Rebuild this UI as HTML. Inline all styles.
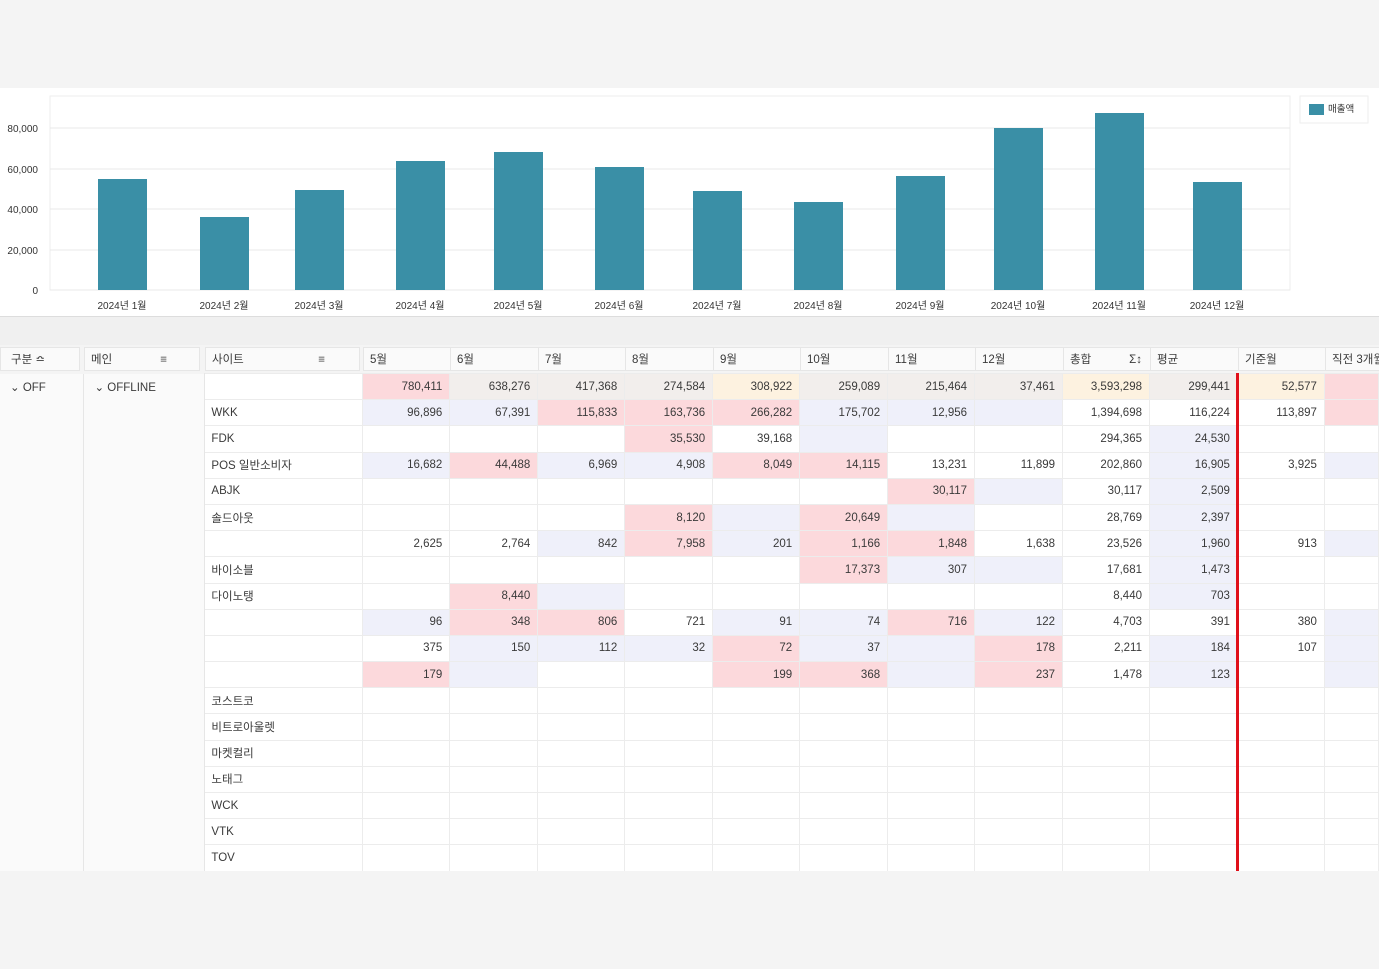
<!DOCTYPE html>
<html><head><meta charset="utf-8"><style>
body{margin:0;width:1379px;height:969px;background:#f4f4f4;position:relative;overflow:hidden;font-family:"Liberation Sans","Noto Sans CJK KR",sans-serif;color:#3a3a3a}
.chart{position:absolute;left:0;top:88px;width:1379px;height:228px;background:#fff;border-bottom:1px solid #ddd}
.band{position:absolute;left:0;top:317px;width:1379px;height:28px;background:#f0f0f0}
table{position:absolute;left:0;top:373px;border-collapse:collapse;table-layout:fixed;font-size:11.5px}
td{height:25.2px;padding:0 7px 0 0;text-align:right;border:1px solid #ececec;white-space:nowrap;overflow:hidden;background:#fff}
td.n{text-align:left;padding-left:6px;background:#fff}
td.side{background:#fafafa;vertical-align:top;text-align:left;padding:6px 0 0 10px;border:none;border-right:1px solid #e6e6e6}
.p{background:#fcd9dc}.b{background:#eff0fa}.g{background:#f2eeec}.y{background:#fdf2e0}.w{background:#fff}
.hd{position:absolute;top:347px;height:24px;background:#fafafa;border:1px solid #e6e6e6;font-size:11.5px;line-height:24px;padding-left:6px;box-sizing:border-box}
</style></head><body>
<div class="chart"></div>
<svg style="position:absolute;left:0;top:0" width="1379" height="320" font-family="Liberation Sans, Noto Sans CJK KR, sans-serif" font-size="10" fill="#333">
<rect x="50" y="96" width="1240" height="194" fill="#fff" stroke="#eee"/>
<g stroke="#e8e8e8"><line x1="50" x2="1290" y1="128" y2="128"/><line x1="50" x2="1290" y1="169" y2="169"/><line x1="50" x2="1290" y1="209" y2="209"/><line x1="50" x2="1290" y1="250" y2="250"/><line x1="50" x2="1290" y1="290" y2="290"/></g>
<g text-anchor="end"><text x="38" y="132">80,000</text><text x="38" y="173">60,000</text><text x="38" y="213">40,000</text><text x="38" y="254">20,000</text><text x="38" y="294">0</text></g>
<g fill="#3a8fa6">
<rect x="98" y="179" width="49" height="111"/><rect x="200" y="217" width="49" height="73"/><rect x="295" y="190" width="49" height="100"/><rect x="396" y="161" width="49" height="129"/><rect x="494" y="152" width="49" height="138"/><rect x="595" y="167" width="49" height="123"/><rect x="693" y="191" width="49" height="99"/><rect x="794" y="202" width="49" height="88"/><rect x="896" y="176" width="49" height="114"/><rect x="994" y="128" width="49" height="162"/><rect x="1095" y="113" width="49" height="177"/><rect x="1193" y="182" width="49" height="108"/></g>
<g text-anchor="middle"><text x="122" y="309">2024년 1월</text><text x="224" y="309">2024년 2월</text><text x="319" y="309">2024년 3월</text><text x="420" y="309">2024년 4월</text><text x="518" y="309">2024년 5월</text><text x="619" y="309">2024년 6월</text><text x="717" y="309">2024년 7월</text><text x="818" y="309">2024년 8월</text><text x="920" y="309">2024년 9월</text><text x="1018" y="309">2024년 10월</text><text x="1119" y="309">2024년 11월</text><text x="1217" y="309">2024년 12월</text></g>
<rect x="1300" y="96" width="68" height="27" fill="#fff" stroke="#eee"/><rect x="1309" y="104" width="15" height="11" fill="#3a8fa6"/><text x="1328" y="112" font-size="9.5">매출액</text>
</svg>
<div class="band"></div>
<div class="hd" style="left:0;width:80px;padding-left:10px">구분 ≏</div>
<div class="hd" style="left:84px;width:116px">메인<span style="position:absolute;right:32px">≡</span></div>
<div class="hd" style="left:205px;width:155px">사이트<span style="position:absolute;right:34px">≡</span></div>
<div class="hd" style="left:363px;width:88px">5월</div><div class="hd" style="left:450px;width:89px">6월</div><div class="hd" style="left:538px;width:88px">7월</div><div class="hd" style="left:625px;width:89px">8월</div><div class="hd" style="left:713px;width:88px">9월</div><div class="hd" style="left:800px;width:89px">10월</div><div class="hd" style="left:888px;width:88px">11월</div><div class="hd" style="left:975px;width:89px">12월</div><div class="hd" style="left:1063px;width:88px">총합<span style="position:absolute;right:8px">Σ↕</span></div><div class="hd" style="left:1150px;width:89px">평균</div><div class="hd" style="left:1238px;width:88px">기준월</div><div class="hd" style="left:1325px;width:60px">직전 3개월</div>
<table>
<colgroup><col style="width:84px"><col style="width:121px"><col style="width:158px"><col style="width:87px"><col style="width:88px"><col style="width:87px"><col style="width:88px"><col style="width:87px"><col style="width:88px"><col style="width:87px"><col style="width:88px"><col style="width:87px"><col style="width:88px"><col style="width:87px"><col style="width:54px"></colgroup>
<tr><td class="side" rowspan="19">⌄ OFF</td><td class="side" rowspan="19">⌄ OFFLINE</td><td class="n"></td><td class="p">780,411</td><td class="g">638,276</td><td class="g">417,368</td><td class="g">274,584</td><td class="y">308,922</td><td class="g">259,089</td><td class="g">215,464</td><td class="g">37,461</td><td class="y">3,593,298</td><td class="g">299,441</td><td class="y">52,577</td><td class="p"></td></tr>
<tr><td class="n">WKK</td><td class="b">96,896</td><td class="b">67,391</td><td class="p">115,833</td><td class="p">163,736</td><td class="p">266,282</td><td class="b">175,702</td><td class="b">12,956</td><td class="b"></td><td class="w">1,394,698</td><td class="w">116,224</td><td class="w">113,897</td><td class="p"></td></tr>
<tr><td class="n">FDK</td><td></td><td></td><td></td><td class="p">35,530</td><td>39,168</td><td class="b"></td><td></td><td></td><td>294,365</td><td class="b">24,530</td><td></td><td></td></tr>
<tr><td class="n">POS 일반소비자</td><td class="b">16,682</td><td class="p">44,488</td><td class="b">6,969</td><td class="b">4,908</td><td class="p">8,049</td><td class="p">14,115</td><td>13,231</td><td>11,899</td><td>202,860</td><td class="b">16,905</td><td>3,925</td><td class="b"></td></tr>
<tr><td class="n">ABJK</td><td></td><td></td><td></td><td></td><td></td><td></td><td class="p">30,117</td><td class="b"></td><td>30,117</td><td class="b">2,509</td><td></td><td></td></tr>
<tr><td class="n">솔드아웃</td><td></td><td></td><td></td><td class="p">8,120</td><td class="b"></td><td class="p">20,649</td><td class="b"></td><td></td><td>28,769</td><td class="b">2,397</td><td></td><td></td></tr>
<tr><td class="n"></td><td>2,625</td><td>2,764</td><td class="b">842</td><td class="p">7,958</td><td class="b">201</td><td class="p">1,166</td><td class="p">1,848</td><td>1,638</td><td>23,526</td><td class="b">1,960</td><td>913</td><td class="b"></td></tr>
<tr><td class="n">바이소블</td><td></td><td></td><td></td><td></td><td></td><td class="p">17,373</td><td class="b">307</td><td class="b"></td><td>17,681</td><td class="b">1,473</td><td></td><td></td></tr>
<tr><td class="n">다이노탱</td><td></td><td class="p">8,440</td><td class="b"></td><td></td><td></td><td></td><td></td><td></td><td>8,440</td><td class="b">703</td><td></td><td></td></tr>
<tr><td class="n"></td><td class="b">96</td><td class="p">348</td><td class="p">806</td><td>721</td><td class="b">91</td><td class="b">74</td><td class="p">716</td><td class="b">122</td><td>4,703</td><td>391</td><td>380</td><td class="b"></td></tr>
<tr><td class="n"></td><td>375</td><td class="b">150</td><td class="b">112</td><td class="b">32</td><td class="p">72</td><td class="b">37</td><td class="b"></td><td class="p">178</td><td>2,211</td><td class="b">184</td><td>107</td><td class="b"></td></tr>
<tr><td class="n"></td><td class="p">179</td><td class="b"></td><td></td><td></td><td class="p">199</td><td class="p">368</td><td class="b"></td><td class="p">237</td><td>1,478</td><td class="b">123</td><td></td><td class="b"></td></tr>
<tr><td class="n">코스트코</td><td></td><td></td><td></td><td></td><td></td><td></td><td></td><td></td><td></td><td></td><td></td><td></td></tr>
<tr><td class="n">비트로아울렛</td><td></td><td></td><td></td><td></td><td></td><td></td><td></td><td></td><td></td><td></td><td></td><td></td></tr>
<tr><td class="n">마켓컬리</td><td></td><td></td><td></td><td></td><td></td><td></td><td></td><td></td><td></td><td></td><td></td><td></td></tr>
<tr><td class="n">노태그</td><td></td><td></td><td></td><td></td><td></td><td></td><td></td><td></td><td></td><td></td><td></td><td></td></tr>
<tr><td class="n">WCK</td><td></td><td></td><td></td><td></td><td></td><td></td><td></td><td></td><td></td><td></td><td></td><td></td></tr>
<tr><td class="n">VTK</td><td></td><td></td><td></td><td></td><td></td><td></td><td></td><td></td><td></td><td></td><td></td><td></td></tr>
<tr><td class="n">TOV</td><td></td><td></td><td></td><td></td><td></td><td></td><td></td><td></td><td></td><td></td><td></td><td></td></tr>
</table>
<div style="position:absolute;left:1236px;top:373px;width:3px;height:498px;background:#e0101a"></div>
<div style="position:absolute;left:0;top:871px;width:1379px;height:98px;background:#f4f4f4"></div>
</body></html>
